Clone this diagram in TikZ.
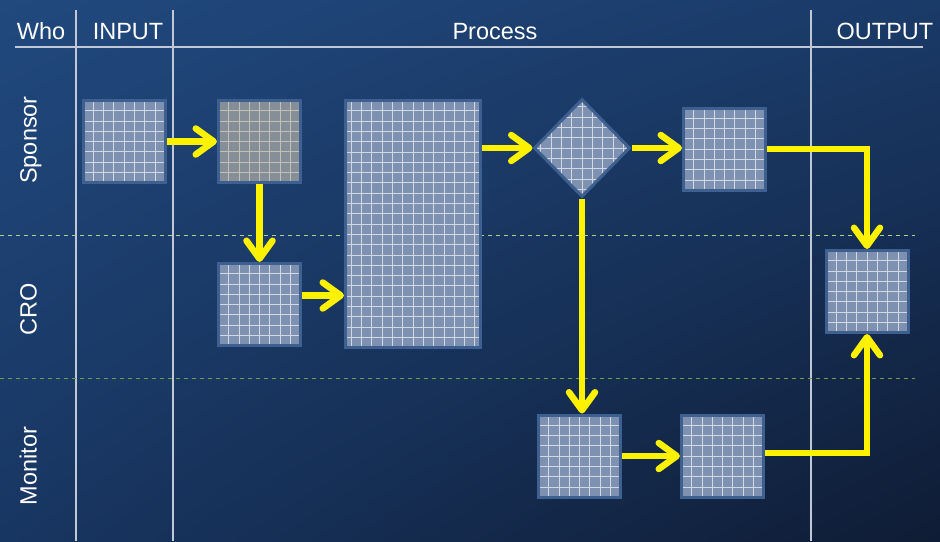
\documentclass[tikz,border=0pt]{standalone}
\usepackage{fontspec}
\setmainfont{Liberation Sans}
\usetikzlibrary{arrows.meta,shapes.geometric,shadings,positioning}

\definecolor{bgtl}{RGB}{33,73,126}
\definecolor{bgtr}{RGB}{26,58,104}
\definecolor{bgbl}{RGB}{24,54,98}
\definecolor{bgbr}{RGB}{15,28,52}
\definecolor{boxline}{RGB}{62,96,144}
\definecolor{boxfill}{RGB}{126,145,176}
\definecolor{boxolive}{RGB}{134,143,152}
\definecolor{gridcream}{RGB}{226,222,200}
\definecolor{rulecol}{RGB}{192,200,214}
\definecolor{laneone}{RGB}{170,208,150}
\definecolor{lanetwo}{RGB}{104,160,78}

\tikzset{
	gridcol/.style={white},
	cell/.style={draw=boxline, line width=3pt, fill=boxfill, inner sep=0pt,
		minimum width=82pt, minimum height=82pt,
		path picture={\draw[gridcol, opacity=0.65, line width=0.8pt, step=10.3pt]
			(path picture bounding box.south west) grid (path picture bounding box.north east);}},
	head/.style={text=white, anchor=base},
	rule/.style={rulecol, line width=1.2pt},
	lane/.style={line width=0.9pt, dash pattern=on 4pt off 4pt},
	flow/.style={yellow, line width=6.5pt, -{Straight Barb[round, length=18pt, width=26pt]}}
}

\begin{document}
\begin{tikzpicture}[x=1pt, y=-1pt, font={\fontsize{23.5}{28}\selectfont}]
	\shade[upper left=bgtl, upper right=bgtr, lower left=bgbl, lower right=bgbr] (0,0) rectangle (940,541);
	\useasboundingbox (0,0) rectangle (940,541);

	% swimlanes
	\draw[rule] (15,47) -- (923,47);
	\foreach \x in {76, 173, 811} {
		\draw[rule] (\x,10) -- (\x,541);
	}
	\draw[lane, laneone] (0,235) -- (915,235);
	\draw[lane, lanetwo] (0,378) -- (915,378);

	\node[head] (who) at (41,39.5) {Who};
	\node[head] (input) at (128,39.5) {INPUT};
	\node[head] (process) at (495,39.5) {Process};
	\node[head] (output) at (885,39.5) {OUTPUT};
	\node[head, rotate=90] (sponsor) at (36.5,140) {Sponsor};
	\node[head, rotate=90] (cro) at (36.5,309.5) {CRO};
	\node[head, rotate=90] (monitor) at (36.5,466) {Monitor};

	% steps
	\node[cell] (in) at (124,141.5) {};
	\node[cell, fill=boxolive, gridcol/.style={gridcream}] (s1) at (259.5,141.5) {};
	\node[cell] (c1) at (259.5,304.5) {};
	\node[cell, minimum width=135pt, minimum height=247pt] (main) at (413,224) {};
	\node[cell, diamond, minimum width=96pt, minimum height=98pt] (dec) at (582,148) {};
	\node[cell] (s2) at (724.5,149) {};
	\node[cell] (out) at (867,291.5) {};
	\node[cell] (m1) at (579.5,456) {};
	\node[cell] (m2) at (722.5,456) {};

	% flow
	\draw[flow] (in) -- (s1);
	\draw[flow] (s1) -- (c1);
	\draw[flow] ([yshift=9pt]c1.east) -- ([yshift=9pt]c1.east -| main.west);
	\draw[flow] (dec.west -| main.east) -- (dec.west);
	\draw[flow] (dec.east) -- (dec.east -| s2.west);
	\draw[flow] (dec.south) -- (dec.south |- m1.north);
	\draw[flow] (m1) -- (m2);
	\draw[flow] (s2.east) -| (out.north);
	\draw[flow] ([yshift=3pt]m2.east) -| (out.south);
\end{tikzpicture}
\end{document}
